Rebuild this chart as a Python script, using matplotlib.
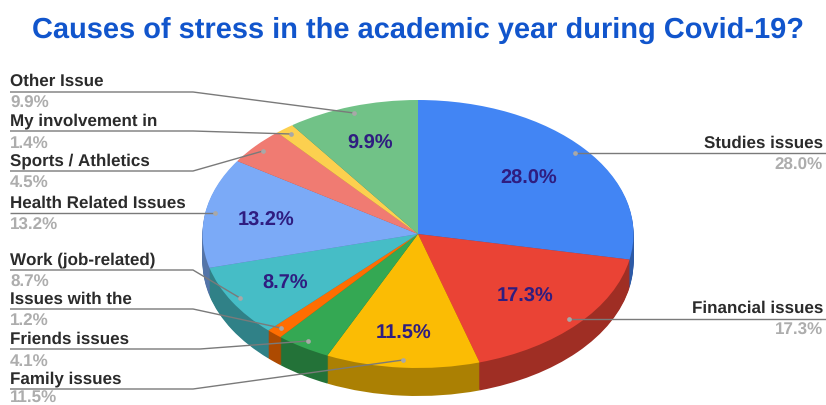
import numpy as np
import matplotlib
matplotlib.use("Agg")
import matplotlib.pyplot as plt
import matplotlib.colors as mc

plt.rcParams["text.hinting"] = "none"
plt.rcParams["text.hinting_factor"] = 1

TITLE = "Causes of stress in the academic year during Covid-19?"
labels = ["Studies issues", "Financial issues", "Family issues", "Friends issues",
          "Issues with the", "Work (job-related)", "Health Related Issues",
          "Sports / Athletics", "My involvement in", "Other Issue"]
values = [28.0, 17.3, 11.5, 4.1, 1.2, 8.7, 13.2, 4.5, 1.4, 9.9]
colors = ["#4285f4", "#ea4335", "#fbbc04", "#34a853", "#ff6d01",
          "#46bdc6", "#7baaf7", "#f07b72", "#fcd04f", "#71c287"]
label_y = [143, 308, 379, 339, 299, 260, 203, 161, 121, 81]
pct_y = [165, 330, 398, 361, 321, 282, 225, 183, 143, 103]
anchors = [(575, 153), (569, 319), (403, 360), (308, 341), (281, 328),
           (240, 298), (215, 213), (263, 151), (291, 134), (354, 113)]
elbows = [(575, 153), (569, 319), (193, 389), (200, 349), (193, 309),
          (193, 270), (192, 213), (193, 171), (193, 131), (193, 92)]
pct_xy = [(529, 179), (525, 297), (404, 334), None, None,
          (285, 284), (266, 221), None, None, (370, 144)]

W, H = 826, 405
CX, CY, RX, RY, DEPTH = 418, 234, 215.5, 134, 28
fig = plt.figure(figsize=(W/100, H/100), dpi=100)
ax = fig.add_axes([0, 0, 1, 1])

def dark(c, f=0.68):
    return tuple(x*f for x in mc.to_rgb(c))

for d in np.arange(DEPTH, 0, -1.0):
    ax.pie(values, colors=[dark(c) for c in colors], startangle=90, counterclock=False,
           radius=1, center=(0, -d/RY), wedgeprops=dict(linewidth=0))
ax.pie(values, colors=colors, startangle=90, counterclock=False, radius=1,
       wedgeprops=dict(linewidth=0))
ax.set_aspect("auto")
ax.set_xlim((0-CX)/RX, (W-CX)/RX)
ax.set_ylim((CY-H)/RY, CY/RY)
ax.axis("off")

def P(xy):
    return ((xy[0]-CX)/RX, (CY-xy[1])/RY)

for v, xy in zip(values, pct_xy):
    if xy is not None:
        ax.text(*P(xy), f"{v:.1f}%", ha="center", va="center", fontsize=14.5,
                fontweight="bold", color="#2f1d80", family="Liberation Sans", zorder=6)

for i, (lab, v) in enumerate(zip(labels, values)):
    a, e = anchors[i], elbows[i]
    right = i < 2
    ha = "right" if right else "left"
    tx = 823 if right else 10
    end_x = 826 if right else 10
    pts = [P(a), P(e), P((end_x, e[1]))]
    ax.plot(*zip(*pts), color="#7a7a7a", lw=1.0, zorder=5, solid_capstyle="butt")
    ax.plot(*P(a), "o", ms=3.4, color="#a8a8a8", mew=0, zorder=7)
    ax.text(*P((tx, label_y[i])), lab, ha=ha, va="center", fontsize=12.3, fontweight="bold",
            color="#2b2b2b", family="Liberation Sans", zorder=6)
    ax.text(*P((tx, pct_y[i])), f"{v:.1f}%", ha=ha, va="center", fontsize=12.3,
            fontweight="bold", color="#adadad", family="Liberation Sans", zorder=6)

ax.text(*P((418, 30)), TITLE, ha="center", va="center", fontsize=20.6, fontweight="bold",
        color="#1155cc", family="Liberation Sans", zorder=6)
fig.savefig("out.png", dpi=100, facecolor="white")
